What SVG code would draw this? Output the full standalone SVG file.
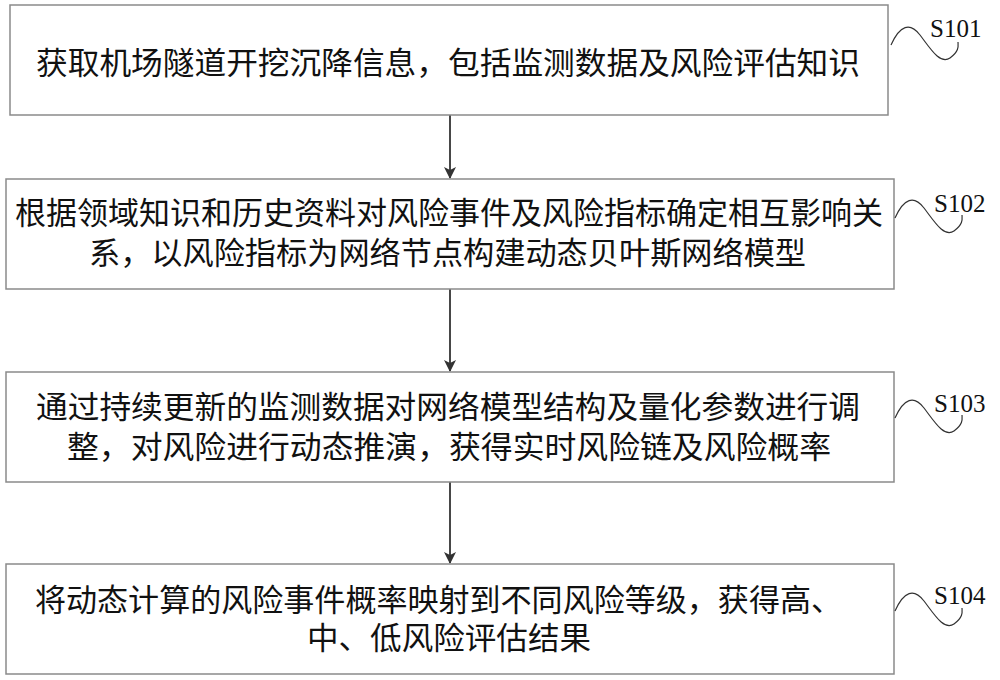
<svg xmlns="http://www.w3.org/2000/svg" width="1000" height="680" viewBox="0 0 1000 680">
<defs>
<style>
.box{fill:#fff;stroke:#8a8a8a;stroke-width:1.5}
.t{font-family:"Noto Sans CJK SC","Liberation Sans",sans-serif;font-size:31px;fill:#111}
.lab{font-family:"Liberation Serif",serif;font-size:25px;fill:#111}
.sq{fill:none;stroke:#333;stroke-width:1.2}
.ar{stroke:#333;stroke-width:1.8;fill:none;marker-end:url(#ah)}
</style>
<marker id="ah" markerWidth="12" markerHeight="14" refX="11" refY="6" orient="auto" markerUnits="userSpaceOnUse"><path d="M0,0 L12,6 L0,12 L3,6 Z" fill="#333"/></marker>
</defs>
<rect width="1000" height="680" fill="#fff"/>
<g id="connectors">
<line class="ar" x1="450" y1="115" x2="450" y2="178"/>
<line class="ar" x1="450" y1="289" x2="450" y2="371"/>
<line class="ar" x1="450" y1="482" x2="450" y2="563"/>
</g>
<g id="S101">
<rect class="box" x="10" y="5" width="878" height="110"/>
<text class="t" x="36" y="74" textLength="824" lengthAdjust="spacingAndGlyphs">获取机场隧道开挖沉降信息，包括监测数据及风险评估知识</text>
<path class="sq" d="M891,45 C900,25 910,22 920,35 S940,65 950,58 S958,45 958,42"/>
<text class="lab" x="930" y="37">S101</text>
</g>
<g id="S102">
<rect class="box" x="6" y="179" width="888" height="110"/>
<text class="t" x="15" y="224" textLength="868" lengthAdjust="spacingAndGlyphs">根据领域知识和历史资料对风险事件及风险指标确定相互影响关</text>
<text class="t" x="89" y="264" textLength="717" lengthAdjust="spacingAndGlyphs">系，以风险指标为网络节点构建动态贝叶斯网络模型</text>
<path class="sq" d="M895,218 C904,198 914,195 924,208 S944,238 954,231 S962,218 962,215"/>
<text class="lab" x="934" y="212">S102</text>
</g>
<g id="S103">
<rect class="box" x="6" y="372" width="888" height="110"/>
<text class="t" x="36" y="418" textLength="824" lengthAdjust="spacingAndGlyphs">通过持续更新的监测数据对网络模型结构及量化参数进行调</text>
<text class="t" x="67" y="458" textLength="764" lengthAdjust="spacingAndGlyphs">整，对风险进行动态推演，获得实时风险链及风险概率</text>
<path class="sq" d="M895,418 C904,398 914,395 924,408 S944,438 954,431 S962,418 962,415"/>
<text class="lab" x="934" y="412">S103</text>
</g>
<g id="S104">
<rect class="box" x="6" y="564" width="888" height="110"/>
<text class="t" x="35" y="611" textLength="807" lengthAdjust="spacingAndGlyphs">将动态计算的风险事件概率映射到不同风险等级，获得高、</text>
<text class="t" x="307" y="649" textLength="284" lengthAdjust="spacingAndGlyphs">中、低风险评估结果</text>
<path class="sq" d="M895,611 C904,591 914,588 924,601 S944,631 954,624 S962,611 962,608"/>
<text class="lab" x="934" y="604">S104</text>
</g>
</svg>
